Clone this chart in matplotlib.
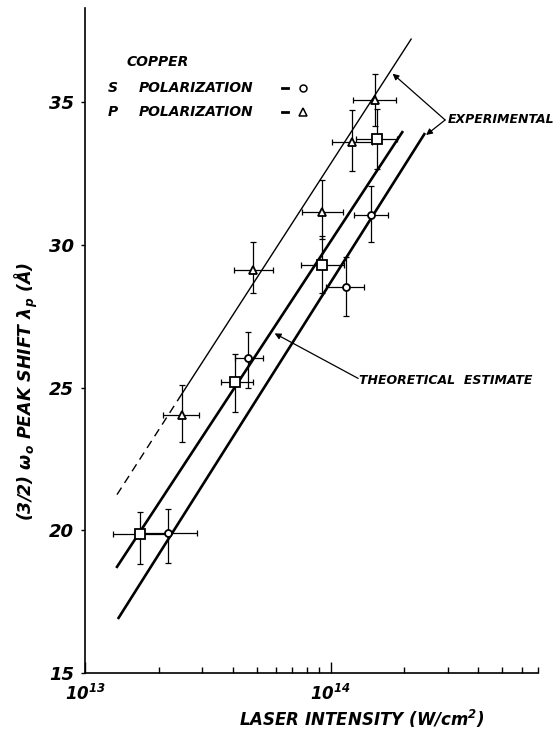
import numpy as np
import matplotlib
matplotlib.use("Agg")
import matplotlib.pyplot as plt
from matplotlib.ticker import LogLocator, NullFormatter, FixedLocator

# ---- data ----
# squares (unlabelled)
sq_x = [1.67e13, 4.07e13, 9.27e13, 1.54e14]
sq_xlo = [1.30e13, 3.57e13, 7.55e13, 1.27e14]
sq_xhi = [2.15e13, 4.82e13, 1.14e14, 1.87e14]
sq_y = [19.88, 25.18, 29.28, 33.70]
sq_ylo = [18.82, 24.16, 28.30, 32.65]
sq_yhi = [20.65, 26.19, 30.30, 34.75]

# S polarization (circles)
s_x = [2.17e13, 4.60e13, 1.16e14, 1.46e14]
s_xlo = [1.66e13, 4.07e13, 9.60e13, 1.25e14]
s_xhi = [2.85e13, 5.30e13, 1.37e14, 1.71e14]
s_y = [19.91, 26.02, 28.51, 31.04]
s_ylo = [18.87, 24.98, 27.50, 30.10]
s_yhi = [20.76, 26.95, 29.58, 32.08]

# P polarization (triangles)
p_x = [2.48e13, 4.82e13, 9.20e13, 1.22e14, 1.52e14]
p_xlo = [2.07e13, 4.03e13, 7.62e13, 1.01e14, 1.23e14]
p_xhi = [2.90e13, 5.81e13, 1.12e14, 1.47e14, 1.85e14]
p_y = [24.05, 29.11, 31.14, 33.60, 35.07]
p_ylo = [23.08, 28.32, 30.22, 32.60, 34.15]
p_yhi = [25.09, 30.11, 32.26, 34.72, 35.98]

# fitted lines (end points)
thin_dash_x = [1.35e13, 2.43e13]
thin_dash_y = [21.25, 24.66]
thin_x = [2.43e13, 2.13e14]
thin_y = [24.66, 37.21]
mid_x = [1.35e13, 1.96e14]
mid_y = [18.72, 33.95]
right_x = [1.37e13, 2.41e14]
right_y = [16.93, 33.88]

plt.rcParams['font.family'] = 'DejaVu Sans'
plt.rcParams['font.weight'] = 'bold'
plt.rcParams['font.style'] = 'oblique'
plt.rcParams['axes.labelweight'] = 'bold'
plt.rcParams['mathtext.fontset'] = 'dejavusans'
plt.rcParams['mathtext.default'] = 'bfit'

fig = plt.figure(figsize=(5.6, 7.31), dpi=100)
ax = fig.add_axes([85 / 560, 58 / 731, 453 / 560, 665 / 731])

ax.plot(thin_dash_x, thin_dash_y, color="black", lw=1.0, linestyle=(0, (6, 4)))
ax.plot(thin_x, thin_y, color="black", lw=1.0)
ax.plot(mid_x, mid_y, color="black", lw=1.9)
ax.plot(right_x, right_y, color="black", lw=1.9)


def draw(x, xlo, xhi, y, ylo, yhi, marker, ms):
    x = np.array(x)
    y = np.array(y)
    xerr = [x - np.array(xlo), np.array(xhi) - x]
    yerr = [y - np.array(ylo), np.array(yhi) - y]
    ax.errorbar(x, y, xerr=xerr, yerr=yerr, fmt="none", ecolor="black",
                elinewidth=0.9, capsize=2.5, capthick=0.9, zorder=3)
    ax.plot(x, y, linestyle="none", marker=marker, ms=ms, mfc="white",
            mec="black", mew=1.3, zorder=4)


draw(sq_x, sq_xlo, sq_xhi, sq_y, sq_ylo, sq_yhi, "s", 6.5)
draw(s_x, s_xlo, s_xhi, s_y, s_ylo, s_yhi, "o", 5)
draw(p_x, p_xlo, p_xhi, p_y, p_ylo, p_yhi, "^", 6)

ax.set_xscale("log")
ax.set_xlim(1e13, 7e14)
ax.set_ylim(15, 38.3)

ax.xaxis.set_major_locator(FixedLocator([1e13, 1e14]))
ax.set_xticklabels([r"$10^{13}$", r"$10^{14}$"], fontsize=12)
ax.xaxis.set_minor_locator(LogLocator(base=10, subs=np.arange(2, 10)))
ax.xaxis.set_minor_formatter(NullFormatter())
ax.tick_params(axis="x", which="major", direction="in", length=8, width=1, pad=8)
ax.tick_params(axis="x", which="minor", direction="in", length=4, width=1)

ax.set_yticks([15, 20, 25, 30, 35])
ax.set_yticklabels(["15", "20", "25", "30", "35"], fontsize=13)
ax.tick_params(axis="y", direction="out", length=3, width=1, pad=5)

ax.spines["top"].set_visible(False)
ax.spines["right"].set_visible(False)
ax.spines["left"].set_linewidth(1.2)
ax.spines["bottom"].set_linewidth(1.2)

ax.set_xlabel(r"LASER INTENSITY (W/cm$^{2}$)", fontsize=12, fontweight="bold")
ax.xaxis.set_label_coords(0.611, -0.052)
ax.set_ylabel(r"(3/2) $\omega_o$ PEAK SHIFT $\lambda_p$ (Å)", fontsize=12.5, fontweight="bold")
ax.yaxis.set_label_coords(-0.100, 0.4226)

# legend written by hand
ax.text(0.0927, 0.9188, "COPPER", transform=ax.transAxes, fontsize=10, va="center")
ax.text(0.0508, 0.8797, "S", transform=ax.transAxes, fontsize=10, va="center")
ax.text(0.119, 0.8797, "POLARIZATION", transform=ax.transAxes, fontsize=10, va="center")
ax.text(0.0508, 0.8436, "P", transform=ax.transAxes, fontsize=10, va="center")
ax.text(0.119, 0.8436, "POLARIZATION", transform=ax.transAxes, fontsize=10, va="center")
ax.plot([0.434, 0.449], [0.8797, 0.8797], color="black", lw=2, transform=ax.transAxes)
ax.plot([0.434, 0.449], [0.8436, 0.8436], color="black", lw=2, transform=ax.transAxes)
ax.plot(0.481, 0.8797, marker="o", ms=5, mfc="white", mec="black", mew=1.1,
        transform=ax.transAxes)
ax.plot(0.481, 0.8436, marker="^", ms=6, mfc="white", mec="black", mew=1.1,
        transform=ax.transAxes)

# annotations
ax.text(0.800, 0.8316, "EXPERIMENTAL", transform=ax.transAxes, fontsize=9, va="center")
arrow = dict(arrowstyle="-|>", color="black", lw=0.9, mutation_scale=9, shrinkA=0, shrinkB=0)
ax.annotate("", xy=(1.79e14, 36.0), xytext=(0.795, 0.8316),
            textcoords="axes fraction", arrowprops=arrow)
ax.annotate("", xy=(2.45e14, 33.85), xytext=(0.795, 0.8316),
            textcoords="axes fraction", arrowprops=arrow)

ax.text(0.605, 0.4406, "THEORETICAL  ESTIMATE", transform=ax.transAxes, fontsize=9, va="center")
ax.annotate("", xy=(5.92e13, 26.9), xytext=(0.603, 0.443),
            textcoords="axes fraction", arrowprops=arrow)

plt.savefig("out.png", dpi=100)
